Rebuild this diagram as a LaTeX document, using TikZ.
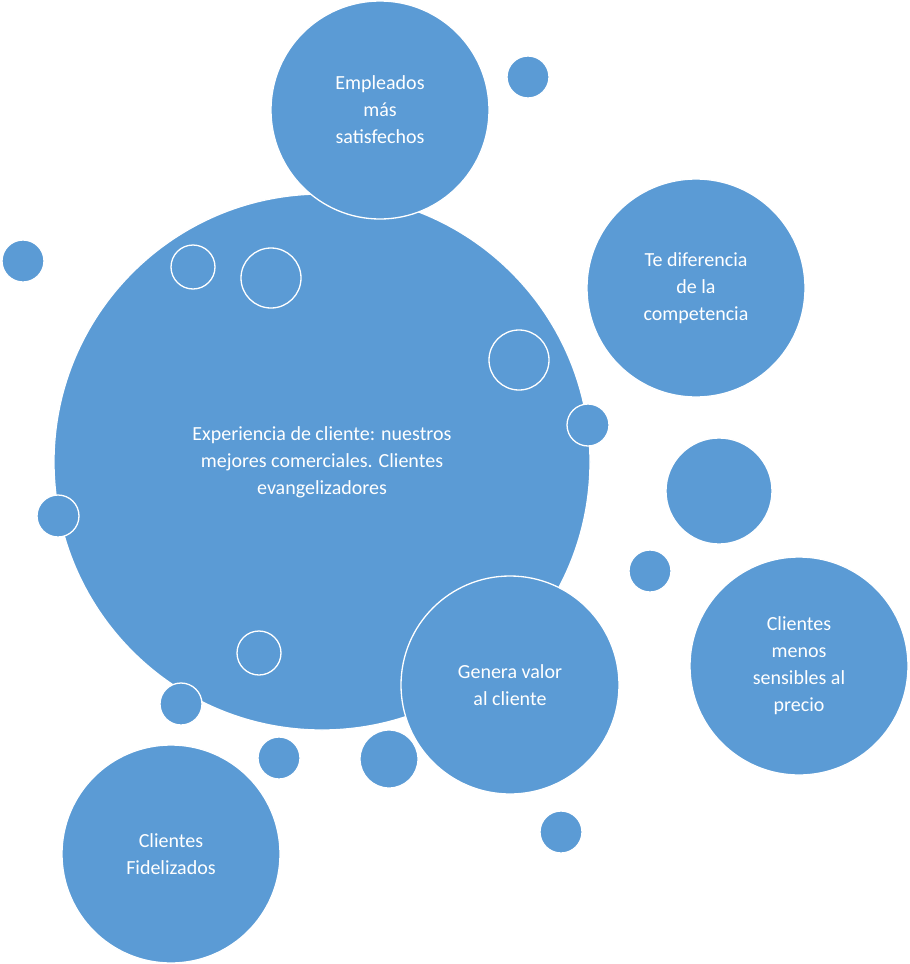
\documentclass[tikz,border=0pt]{standalone}
\usepackage{fontspec}
\setmainfont{Carlito}
\definecolor{bub}{HTML}{5B9BD5}
\begin{document}
\begin{tikzpicture}[x=1pt,y=-1pt,
  b/.style={circle,fill=bub,draw=white,line width=1.3pt,inner sep=0pt,minimum size=#1*2pt,text=white,align=center,font=\fontsize{20}{27}\selectfont}]
\useasboundingbox (0,0) rectangle (910,964);
\node[b=268] (main) at (322,462) {Experiencia de cliente: nuestros\\mejores comerciales. Clientes\\evangelizadores};
\node[b=109] (emp) at (380,110) {Empleados\\más\\satisfechos};
\node[b=21] (s1) at (528,77) {};
\node[b=109] (dif) at (696,288) {Te diferencia\\de la\\competencia};
\node[b=21] (s2) at (23,261) {};
\node[b=22] (s3) at (193,267) {};
\node[b=30] (s4) at (271,278) {};
\node[b=30] (s5) at (519,360) {};
\node[b=21] (s6) at (588,425) {};
\node[b=53] (s7) at (719,491) {};
\node[b=21] (s8) at (650,571) {};
\node[b=109] (pre) at (799,666) {Clientes\\menos\\sensibles al\\precio};
\node[b=109] (val) at (510,685) {Genera valor\\al cliente};
\node[b=21] (s9) at (58,516) {};
\node[b=22] (s10) at (259,653) {};
\node[b=21] (s11) at (181,704) {};
\node[b=21] (s12) at (279,758) {};
\node[b=29] (s13) at (389,759) {};
\node[b=21] (s14) at (561,832) {};
\node[b=109] (fid) at (171,854) {Clientes\\Fidelizados};
\end{tikzpicture}
\end{document}
